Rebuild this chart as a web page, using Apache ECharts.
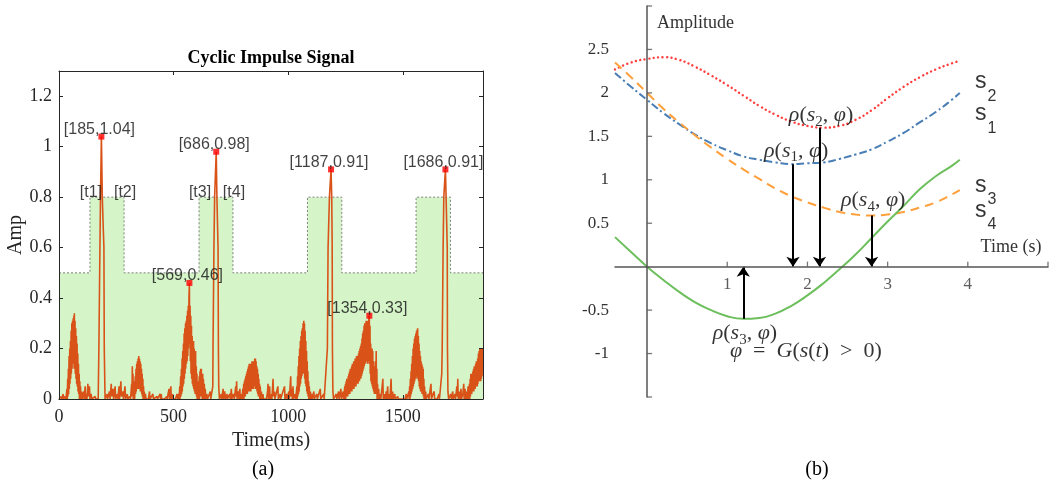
<!DOCTYPE html>
<html>
<head>
<meta charset="utf-8">
<title>Cyclic Impulse Signal</title>
<script src="https://cdn.jsdelivr.net/npm/echarts/dist/echarts.min.js"></script>
<style>
    html, body { margin: 0; padding: 0; background: #fff; }
    #chart { width: 1050px; height: 490px; }
</style>
</head>
<body>
<div id="chart"></div>
<script>
// ---- panel (a) data ----
var impulse = [
    [0,0],[5,0],[10,0.01],[12,0],[18,0.02],[20,0],[26,0.01],[30,0],
    [33,0],[35,0.04],[36,0],[38,0.08],[39,0.01],[41,0.12],[42,0.02],[44,0.17],[45,0.04],[47,0.2],[48,0.06],[50,0.23],[51,0.08],[53,0.27],[54,0.1],[56,0.3],[57,0.12],[59,0.31],[60,0.14],[62,0.32],[63,0.16],[65,0.33],[66,0.12],[67,0.34],[68,0.14],[70,0.31],[71,0.1],[73,0.28],[74,0.08],[76,0.25],[77,0.06],[79,0.22],[80,0.05],[82,0.18],[83,0.03],[85,0.14],[86,0.02],[88,0.1],[89,0],[91,0.07],[92,0],[94,0.05],[96,0],[99,0.03],[101,0],
    [105,0],[108,0.03],[110,0],[114,0.05],[116,0],[120,0.02],[122,0],[126,0.06],[128,0.01],[133,0.05],[135,0],[140,0.02],[143,0],[150,0],[158,0.01],[160,0],[166,0],
    [171,0],[174,0.2],[178.6,0.6],[181,0.8],[185,1.04],[189,0.8],[193,0.68],[196,0.6],[197.5,0.2],[201,0],
    [205,0],[210,0.02],[212,0],[220,0.03],[223,0],[228,0.06],[230,0.01],[236,0.04],[238,0],[245,0.05],[247,0],[255,0.02],[257,0],[262,0.05],[264,0],[270,0.07],[272,0.01],[278,0.03],[281,0],[288,0.05],[290,0],[298,0.02],[300,0],[308,0.01],[312,0],
    [315,0],[317,0.06],[318,0.01],[320,0.13],[321,0.02],[323,0.1],[324,0],[326,0.07],[327,0.01],[329,0.05],[330,0],[333,0.09],[334,0.02],[336,0.12],[337,0.03],[339,0.14],[340,0.04],[342,0.15],[343,0.05],[345,0.16],[346,0.04],[348,0.17],[349,0.05],[351,0.16],[352,0.04],[354,0.15],[355,0.03],[357,0.14],[358,0.03],[360,0.12],[361,0.02],[363,0.1],[364,0.01],[366,0.08],[367,0],[369,0.05],[370,0],[372,0.03],[374,0],[377,0.02],[380,0],
    [390,0],[395,0.03],[397,0],[410,0.02],[412,0],[428,0.01],[430,0],[441,0.02],[443,0],[446,0.02],[448,0],[460,0],[470,0.01],[472,0],[480,0.04],[482,0],[488,0.05],[490,0],[496,0.02],[498,0],[508,0],[515,0.02],[518,0],
    [520,0],[523,0.02],[524,0],[527,0.05],[528,0],[531,0.09],[532,0.01],[534,0.12],[535,0.02],[537,0.16],[538,0.03],[540,0.19],[541,0.05],[543,0.22],[544,0.06],[546,0.26],[547,0.08],[549,0.28],[550,0.1],[552,0.3],[553,0.12],[555,0.31],[556,0.14],[558,0.33],[559,0.15],[561,0.35],[562,0.17],[564,0.37],[565,0.2],[567,0.4],[569,0.46],[570,0.22],[572,0.37],[573,0.15],[575,0.33],[576,0.1],[578,0.29],[579,0.08],[581,0.25],[582,0.06],[584,0.22],[585,0.05],[587,0.23],[588,0.04],[590,0.2],[591,0.03],[593,0.17],[594,0.02],[596,0.19],[597,0.02],[599,0.13],[600,0.01],[602,0.1],[603,0],[605,0.07],[607,0],[609,0.05],[610,0],[612,0.09],[613,0],[615,0.11],[616,0.01],[618,0.12],[619,0.01],[621,0.12],[622,0.01],[624,0.1],[625,0],[627,0.1],[628,0],[630,0.08],[632,0],[634,0.06],[636,0],[638,0.04],[640,0],[645,0.02],[648,0],[655,0],[660,0.03],[662,0],[667,0],
    [669,0],[671,0.05],[672,0.2],[676,0.6],[679,0.8],[686,0.98],[689,0.8],[694,0.6],[695.5,0.2],[697,0.05],[700,0],
    [708,0.02],[710,0],[716,0.04],[718,0],[723,0.03],[726,0],[733,0.02],[735,0],[745,0.02],[747,0],[752,0.04],[754,0],[760,0.02],[765,0],[771,0.05],[773,0.01],[775,0.07],[777,0],[782,0.03],[785,0],[789,0.04],[791,0],
    [795,0],[798,0.02],[799,0],[802,0.04],[803,0],[806,0.06],[807,0],[809,0.07],[810,0.01],[812,0.08],[813,0.01],[815,0.09],[816,0.02],[818,0.1],[819,0.02],[821,0.11],[822,0.02],[824,0.12],[825,0.03],[827,0.13],[828,0.03],[830,0.14],[831,0.03],[833,0.14],[834,0.04],[836,0.13],[837,0.03],[839,0.14],[840,0.04],[842,0.15],[843,0.04],[845,0.15],[846,0.05],[848,0.14],[849,0.04],[851,0.15],[852,0.05],[854,0.16],[855,0.05],[857,0.16],[858,0.04],[860,0.15],[861,0.04],[863,0.13],[864,0.03],[866,0.12],[867,0.02],[869,0.1],[870,0.01],[872,0.08],[873,0.01],[875,0.06],[876,0],[878,0.05],[880,0],[883,0.03],[885,0],[890,0.02],[892,0],[900,0],
    [905,0],[910,0.03],[912,0.06],[914,0],[919,0.05],[921,0],[927,0.02],[929,0],[934,0.08],[936,0.01],[940,0.03],[942,0],[955,0.05],[957,0],[965,0.02],[967,0],[984,0.05],[986,0],[992,0.02],[995,0],[1003,0.03],[1005,0],[1011,0.09],[1013,0.01],[1016,0.04],[1018,0],[1021,0.05],[1023,0],[1030,0.02],[1033,0],
    [1036,0],[1038,0.05],[1039,0],[1041,0.09],[1042,0.01],[1044,0.13],[1045,0.02],[1047,0.17],[1048,0.03],[1050,0.2],[1051,0.05],[1053,0.23],[1054,0.06],[1056,0.25],[1057,0.08],[1059,0.27],[1060,0.09],[1062,0.28],[1063,0.1],[1065,0.3],[1066,0.11],[1068,0.31],[1069,0.1],[1071,0.3],[1072,0.08],[1074,0.27],[1075,0.06],[1077,0.23],[1078,0.05],[1080,0.19],[1081,0.03],[1083,0.15],[1084,0.02],[1086,0.11],[1087,0.01],[1089,0.07],[1090,0],[1092,0.05],[1094,0],[1097,0.03],[1099,0],[1102,0.02],[1105,0],
    [1112,0.03],[1114,0],[1125,0.02],[1127,0],[1140,0.04],[1142,0],[1155,0.02],[1157,0],[1165,0],
    [1168,0],[1171,0.2],[1174,0.6],[1180,0.8],[1187,0.91],[1190,0.8],[1192,0.6],[1193,0.2],[1195,0.03],[1198,0],
    [1203,0],[1210,0.02],[1212,0],[1220,0.03],[1222,0],[1230,0.04],[1232,0],[1240,0.03],[1242,0],
    [1245,0],[1247,0.05],[1248,0],[1250,0.06],[1251,0],[1253,0.07],[1254,0.01],[1256,0.08],[1257,0.01],[1259,0.08],[1260,0.01],[1262,0.09],[1263,0.02],[1265,0.1],[1266,0.02],[1268,0.11],[1269,0.02],[1271,0.12],[1272,0.03],[1274,0.12],[1275,0.03],[1277,0.13],[1278,0.03],[1280,0.14],[1281,0.04],[1283,0.14],[1284,0.04],[1286,0.15],[1287,0.04],[1289,0.15],[1290,0.05],[1292,0.16],[1293,0.05],[1295,0.16],[1296,0.05],[1298,0.17],[1299,0.06],[1301,0.17],[1302,0.06],[1304,0.17],[1305,0.06],[1307,0.18],[1308,0.07],[1310,0.19],[1311,0.07],[1313,0.2],[1314,0.08],[1316,0.21],[1317,0.08],[1319,0.22],[1320,0.09],[1322,0.24],[1323,0.1],[1325,0.26],[1326,0.11],[1328,0.27],[1329,0.12],[1331,0.29],[1332,0.13],[1334,0.3],[1335,0.14],[1337,0.3],[1338,0.14],[1340,0.31],[1341,0.15],[1343,0.31],[1344,0.15],[1346,0.3],[1347,0.14],[1349,0.31],[1350,0.15],[1352,0.32],[1354,0.33],[1355,0.14],[1357,0.29],[1358,0.1],[1360,0.22],[1361,0.07],[1363,0.2],[1364,0.06],[1366,0.2],[1367,0.05],[1369,0.19],[1370,0.04],[1372,0.15],[1373,0.03],[1375,0.13],[1376,0.02],[1378,0.12],[1379,0.02],[1381,0.15],[1382,0.02],[1384,0.19],[1385,0.02],[1387,0.12],[1388,0],[1390,0.06],[1392,0],[1395,0.04],[1397,0],
    [1402,0.02],[1404,0],[1410,0.05],[1413,0.08],[1415,0],[1420,0.02],[1422,0],[1428,0.03],[1430,0],[1434,0.05],[1436,0],[1442,0.02],[1444,0],[1449,0.08],[1451,0],[1456,0.03],[1458,0],[1465,0.02],[1467,0],[1478,0.01],[1480,0],[1490,0],[1500,0],
    [1510,0],[1515,0.02],[1517,0],[1524,0],[1527,0.03],[1528,0],[1530,0.05],[1531,0],[1533,0.08],[1534,0.01],[1536,0.11],[1537,0.02],[1539,0.14],[1540,0.03],[1542,0.17],[1543,0.04],[1545,0.2],[1546,0.05],[1548,0.22],[1549,0.06],[1551,0.24],[1552,0.07],[1554,0.25],[1555,0.08],[1557,0.26],[1558,0.08],[1560,0.27],[1561,0.09],[1563,0.27],[1565,0.28],[1566,0.08],[1568,0.25],[1569,0.07],[1571,0.22],[1572,0.05],[1574,0.19],[1575,0.04],[1577,0.17],[1578,0.03],[1580,0.15],[1581,0.03],[1583,0.14],[1584,0.02],[1586,0.13],[1587,0.02],[1589,0.12],[1590,0.01],[1592,0.08],[1593,0],[1595,0.05],[1597,0],[1600,0.03],[1602,0],[1605,0],
    [1612,0.02],[1614,0],[1620,0.04],[1623,0.06],[1625,0],[1632,0.02],[1637,0.03],[1639,0],[1650,0],[1658,0.02],[1660,0],
    [1666,0],[1670,0.1],[1672,0.2],[1676,0.6],[1679,0.8],[1686,0.91],[1689,0.8],[1694,0.6],[1695,0.2],[1697,0.03],[1700,0],
    [1705,0],[1710,0.02],[1712,0],[1718,0.03],[1720,0],[1728,0.02],[1730,0],[1736,0.05],[1738,0.01],[1740,0.08],[1742,0],[1748,0.03],[1750,0],[1754,0.04],[1756,0],[1762,0.02],[1766,0.06],[1768,0],[1772,0.04],[1774,0],[1779,0.03],[1781,0],[1785,0.05],[1787,0],
    [1791,0.06],[1792,0],[1794,0.08],[1795,0.01],[1797,0.1],[1798,0.02],[1800,0.09],[1801,0.02],[1803,0.1],[1804,0.03],[1806,0.11],[1807,0.03],[1809,0.12],[1810,0.03],[1812,0.13],[1813,0.04],[1815,0.12],[1816,0.04],[1818,0.14],[1819,0.05],[1821,0.15],[1822,0.05],[1824,0.14],[1825,0.05],[1827,0.16],[1828,0.06],[1830,0.18],[1831,0.07],[1833,0.19],[1834,0.07],[1836,0.2],[1837,0.08],[1839,0.18],[1840,0.07],[1842,0.2],[1843,0.08],[1845,0.19],[1846,0.09],[1848,0.2],[1850,0.2]
];
var peakT = [185, 569, 686, 1187, 1354, 1686];
var peakV = [1.04, 0.46, 0.98, 0.91, 0.33, 0.91];
var winStart = [135, 611, 1084, 1558];
var winEnd = [284, 759, 1234, 1708];
var winLow = 0.5, winHigh = 0.8;
var edgeNames = ['[t1]', '[t2]', '[t3]', '[t4]'];
var timeMax = 1850;

// ---- panel (b) data ----
var bx = [-0.4, -0.2, 0, 0.2, 0.4, 0.6, 0.8, 1.0, 1.2, 1.4, 1.6, 1.8, 2.0, 2.2, 2.4, 2.6, 2.8, 3.0, 3.2, 3.4, 3.6, 3.8, 3.9];
var s1 = [2.23, 2.07, 1.92, 1.77, 1.64, 1.52, 1.42, 1.34, 1.27, 1.23, 1.2, 1.18, 1.19, 1.2, 1.24, 1.29, 1.35, 1.44, 1.54, 1.66, 1.78, 1.92, 2.0];
var s2 = [2.27, 2.35, 2.39, 2.41, 2.38, 2.3, 2.2, 2.09, 1.97, 1.85, 1.75, 1.67, 1.62, 1.6, 1.62, 1.69, 1.8, 1.94, 2.07, 2.18, 2.27, 2.34, 2.37];
var s3 = [0.34, 0.17, 0, -0.15, -0.29, -0.41, -0.5, -0.57, -0.6, -0.59, -0.54, -0.45, -0.33, -0.19, -0.03, 0.14, 0.33, 0.52, 0.7, 0.89, 1.04, 1.16, 1.23];
var s4 = [2.35, 2.18, 2.0, 1.82, 1.66, 1.51, 1.37, 1.24, 1.12, 1.01, 0.9, 0.81, 0.74, 0.68, 0.63, 0.6, 0.59, 0.6, 0.63, 0.68, 0.74, 0.83, 0.88];
var bTickX = [1, 2, 3, 4, 5];
var bTickY = [-1.5, -1, -0.5, 0.5, 1, 1.5, 2, 2.5, 3];
var arrowX = [1.82, 2.15, 2.8, 1.2];
var arrowFrom = [1.18, 1.6, 0.59, -0.6];
var rhoIdx = [2, 1, 4, 3];
var rhoX = [2.17, 1.86, 2.82, 1.22];
var rhoY = [1.73, 1.32, 0.75, -0.78];
var sIdx = [2, 1, 3, 4];
var sY = [2.12, 1.75, 0.93, 0.64];

(function(){

    var chart = echarts.init(document.getElementById('chart'));

    function zip(xs, ys) {
        return xs.map(function(x, i){ return [x, ys[i]]; });
    }

    var win = [[0, winLow]];
    for (var i = 0; i < winStart.length; i++) {
        win.push([winStart[i], winLow], [winStart[i], winHigh], [winEnd[i], winHigh], [winEnd[i], winLow]);
    }
    win.push([timeMax, winLow]);

    var edges = [];
    for (i = 0; i < 2; i++) {
        edges.push([winStart[i], winHigh], [winEnd[i], winHigh]);
    }

    var arrows = arrowX.map(function(x, i){
        return [{coord: [x, arrowFrom[i]]}, {coord: [x, 0]}];
    });

    var serif = 'Liberation Serif';
    var dark = '#262626';
    var bAxisColor = '#555';
    var mathRich = {
        i: {fontFamily: serif, fontStyle: 'italic', fontSize: 22, lineHeight: 24, verticalAlign: 'top', color: '#000'},
        r: {fontFamily: serif, fontSize: 22, lineHeight: 24, verticalAlign: 'top', color: '#000'},
        b: {fontFamily: serif, fontSize: 15, lineHeight: 15, padding: [10, 0, 0, 0], verticalAlign: 'top', color: '#000'}
    };

    var aTick = {show: true, inside: true, length: 4, lineStyle: {color: dark}};
    var plain = function(v){ return String(v); };

    var option = {
        animation: false,
        backgroundColor: '#fff',
        grid: [
            {left: 59, top: 71, width: 424, height: 328},
            {left: 615, top: 6, width: 433, height: 391}
        ],
        xAxis: [
            {
                gridIndex: 0, type: 'value', min: 0, max: timeMax, interval: 500, z: 5,
                name: 'Time(ms)', nameLocation: 'middle', nameGap: 31,
                nameTextStyle: {fontFamily: serif, fontSize: 20, color: dark},
                axisLine: {onZero: false, lineStyle: {color: dark, width: 1}},
                axisTick: aTick,
                axisLabel: {fontFamily: serif, fontSize: 18, color: dark, margin: 9, showMaxLabel: false, formatter: plain},
                splitLine: {show: false}
            },
            {
                gridIndex: 0, type: 'value', position: 'top', min: 0, max: timeMax, interval: 500, z: 5,
                axisLine: {onZero: false, lineStyle: {color: dark, width: 1}},
                axisTick: aTick,
                axisLabel: {show: false},
                splitLine: {show: false}
            },
            {
                gridIndex: 1, type: 'value', min: -0.4, max: 5, z: 5,
                axisLine: {onZero: true, lineStyle: {color: bAxisColor, width: 1.5}},
                axisTick: {show: false},
                axisLabel: {show: false},
                splitLine: {show: false}
            }
        ],
        yAxis: [
            {
                gridIndex: 0, type: 'value', min: 0, max: 1.3, interval: 0.2, z: 5,
                name: 'Amp', nameLocation: 'middle', nameGap: 32,
                nameTextStyle: {fontFamily: serif, fontSize: 20, color: dark},
                axisLine: {onZero: false, lineStyle: {color: dark, width: 1}},
                axisTick: aTick,
                axisLabel: {fontFamily: serif, fontSize: 18, color: dark, margin: 7, showMaxLabel: false},
                splitLine: {show: false}
            },
            {
                gridIndex: 0, type: 'value', position: 'right', min: 0, max: 1.3, interval: 0.2, z: 5,
                axisLine: {onZero: false, lineStyle: {color: dark, width: 1}},
                axisTick: aTick,
                axisLabel: {show: false},
                splitLine: {show: false}
            },
            {
                gridIndex: 1, type: 'value', min: -1.5, max: 3, interval: 0.5, z: 5,
                axisLine: {onZero: true, lineStyle: {color: bAxisColor, width: 1.5}},
                axisTick: {show: false},
                axisLabel: {customValues: [-1, -0.5, 0.5, 1, 1.5, 2, 2.5], fontFamily: serif, fontSize: 17, color: '#333', margin: 6},
                splitLine: {show: false}
            }
        ],
        graphic: [
            {type: 'text', x: 271, y: 58, style: {text: 'Cyclic Impulse Signal', font: 'bold 18px "Liberation Serif"', fill: '#000', textAlign: 'center', textVerticalAlign: 'middle'}},
            {type: 'text', x: 263, y: 470, style: {text: '(a)', font: '20px "Liberation Serif"', fill: '#000', textAlign: 'center', textVerticalAlign: 'middle'}},
            {type: 'text', x: 817, y: 470, style: {text: '(b)', font: '20px "Liberation Serif"', fill: '#000', textAlign: 'center', textVerticalAlign: 'middle'}},
            {type: 'text', x: 657, y: 23, style: {text: 'Amplitude', font: '18px "Liberation Serif"', fill: '#333', textAlign: 'left', textVerticalAlign: 'middle'}},
            {type: 'text', x: 1011, y: 247, style: {text: 'Time (s)', font: '18px "Liberation Serif"', fill: '#333', textAlign: 'center', textVerticalAlign: 'middle'}}
        ],
        series: [
            {
                // analysis windows
                type: 'line', xAxisIndex: 0, yAxisIndex: 0, z: 1,
                data: win, showSymbol: false, silent: true,
                lineStyle: {color: '#808080', width: 1, type: [2, 2]},
                areaStyle: {color: '#d5f5c9', opacity: 1}
            },
            {
                type: 'line', xAxisIndex: 0, yAxisIndex: 0, z: 2,
                data: impulse, showSymbol: false, sampling: 'none',
                lineStyle: {color: '#d95319', width: 1.6}
            },
            {
                type: 'scatter', xAxisIndex: 0, yAxisIndex: 0, z: 4,
                data: zip(peakT, peakV), symbol: 'rect', symbolSize: 6,
                itemStyle: {color: '#ff0000'},
                label: {
                    show: true, position: 'inside', offset: [-2, -7],
                    fontFamily: 'Liberation Sans', fontSize: 16, color: '#111',
                    formatter: function(p){ return '[' + p.value[0] + ',' + p.value[1].toFixed(2) + ']'; }
                }
            },
            {
                type: 'scatter', xAxisIndex: 0, yAxisIndex: 0, z: 4,
                data: edges, symbolSize: 0, silent: true,
                label: {
                    show: true, position: 'inside', offset: [1, -5],
                    fontFamily: 'Liberation Sans', fontSize: 16, color: '#111',
                    formatter: function(p){ return edgeNames[p.dataIndex]; }
                }
            },
            {
                name: 's2', type: 'line', xAxisIndex: 2, yAxisIndex: 2, smooth: true,
                data: zip(bx, s2), showSymbol: false,
                lineStyle: {color: '#ff4040', width: 2.4, type: [0.1, 4.4], cap: 'round'}
            },
            {
                name: 's1', type: 'line', xAxisIndex: 2, yAxisIndex: 2, smooth: true,
                data: zip(bx, s1), showSymbol: false,
                lineStyle: {color: '#4a7fb5', width: 2, type: [8, 3, 2, 3]}
            },
            {
                name: 's4', type: 'line', xAxisIndex: 2, yAxisIndex: 2, smooth: true,
                data: zip(bx, s4), showSymbol: false,
                lineStyle: {color: '#ffa03c', width: 2, type: [9, 6]}
            },
            {
                name: 's3', type: 'line', xAxisIndex: 2, yAxisIndex: 2, smooth: true,
                data: zip(bx, s3), showSymbol: false,
                lineStyle: {color: '#6cbf5c', width: 2},
                markLine: {
                    silent: true, animation: false,
                    symbol: ['none', 'arrow'], symbolSize: 10,
                    label: {show: false},
                    lineStyle: {color: '#000', width: 2, type: 'solid'},
                    emphasis: {disabled: true},
                    data: arrows
                }
            },
            {
                // x ticks and labels of panel (b), on the zero line
                type: 'scatter', xAxisIndex: 2, yAxisIndex: 2, z: 6,
                data: bTickX.map(function(x){ return [x, 0]; }),
                symbol: 'rect', symbolSize: [1.3, 5], symbolOffset: [0, -2.5], silent: true,
                itemStyle: {color: bAxisColor},
                label: {
                    show: true, position: 'bottom', distance: 9,
                    fontFamily: serif, fontSize: 17, color: '#333',
                    formatter: function(p){ return p.value[0] < 5 ? String(p.value[0]) : ''; }
                }
            },
            {
                // y ticks of panel (b)
                type: 'scatter', xAxisIndex: 2, yAxisIndex: 2, z: 6,
                data: bTickY.map(function(y){ return [0, y]; }),
                symbol: 'rect', symbolSize: [5, 1.3], symbolOffset: [2.5, 0], silent: true,
                itemStyle: {color: bAxisColor}
            },
            {
                type: 'scatter', xAxisIndex: 2, yAxisIndex: 2, z: 6,
                data: zip(rhoX, rhoY), symbolSize: 0, silent: true,
                label: {
                    show: true, position: 'inside', rich: mathRich,
                    formatter: function(p){
                        return '{i|ρ}{r|(}{i|s}{b|' + rhoIdx[p.dataIndex] + '}{r|, }{i|φ}{r|)}';
                    }
                }
            },
            {
                type: 'scatter', xAxisIndex: 2, yAxisIndex: 2, z: 6,
                data: [[1.98, -0.99]], symbolSize: 0, silent: true,
                label: {
                    show: true, position: 'inside', rich: mathRich,
                    formatter: '{i|φ}{r|  =  }{i|G}{r|(}{i|s}{r|(}{i|t}{r|)  >  0)}'
                }
            },
            {
                type: 'scatter', xAxisIndex: 2, yAxisIndex: 2, z: 6,
                data: sY.map(function(y){ return [4.09, y]; }), symbolSize: 0, silent: true,
                label: {
                    show: true, position: 'right', distance: 0,
                    rich: {
                        a: {fontFamily: 'Liberation Sans', fontSize: 23, lineHeight: 24, verticalAlign: 'top', color: '#000'},
                        c: {fontFamily: 'Liberation Sans', fontSize: 16, lineHeight: 16, padding: [18, 0, 0, 1], verticalAlign: 'top', color: '#000'}
                    },
                    formatter: function(p){ return '{a|s}{c|' + sIdx[p.dataIndex] + '}'; }
                }
            }
        ]
    };
    chart.setOption(option);

})();
</script>
</body>
</html>
